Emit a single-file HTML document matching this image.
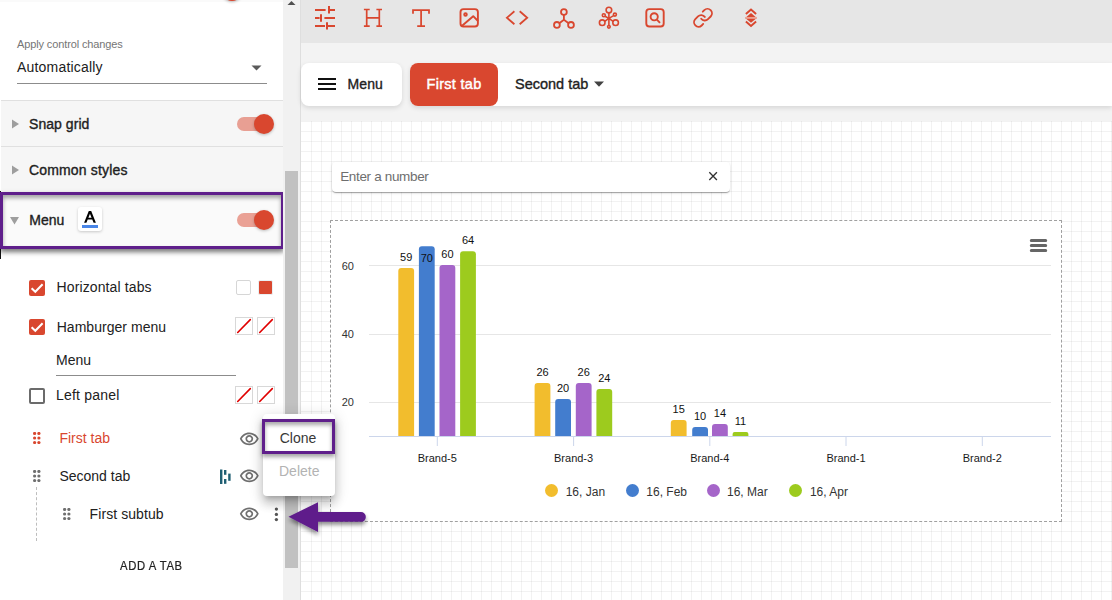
<!DOCTYPE html><html><head><meta charset="utf-8"><style>*{margin:0;padding:0;box-sizing:content-box}
html,body{width:1112px;height:600px;overflow:hidden;background:#fff;position:relative}
body{font-family:"Liberation Sans",sans-serif}
.t{position:absolute;white-space:nowrap;line-height:1}
</style></head><body>
<div style="position:absolute;left:0;top:0;width:283px;height:600px;background:#fff"></div>
<div style="position:absolute;left:0;top:0;width:283px;height:2px;background:#fafafa"></div>
<div style="position:absolute;left:222px;top:-19px;width:20px;height:20px;border-radius:50%;background:#d9472f;box-shadow:0 1px 3px rgba(0,0,0,.3)"></div>
<div class="t " style="left:17px;top:38.99px;font-size:11px;color:#757575;font-weight:400;letter-spacing:-0.12px;">Apply control changes</div>
<div class="t " style="left:17px;top:59.95px;font-size:14px;color:#212121;font-weight:400;letter-spacing:0.19px;">Automatically</div>
<svg style="position:absolute;left:251px;top:65px" width="11" height="6"><path d="M0.5 0.5 L10.5 0.5 L5.5 5.5Z" fill="#5a5a5a"/></svg>
<div style="position:absolute;left:17px;top:83px;width:250px;height:1px;background:#8c8c8c"></div>
<div style="position:absolute;left:1px;top:100px;width:282px;height:148px;background:#f6f6f6;border-top:1px solid #e0e0e0"></div>
<div style="position:absolute;left:1px;top:146px;width:282px;height:1px;background:#e0e0e0"></div>
<svg style="position:absolute;left:12px;top:119px" width="8" height="10"><path d="M0 0.5 L7 5 L0 9.5Z" fill="#9e9e9e"/></svg>
<div class="t " style="left:29px;top:117.15px;font-size:14px;color:#212121;font-weight:400;letter-spacing:0.05px;-webkit-text-stroke:0.35px #212121;">Snap grid</div>
<svg style="position:absolute;left:12px;top:165px" width="8" height="10"><path d="M0 0.5 L7 5 L0 9.5Z" fill="#9e9e9e"/></svg>
<div class="t " style="left:29px;top:163.35px;font-size:14px;color:#212121;font-weight:400;letter-spacing:0.16px;-webkit-text-stroke:0.35px #212121;">Common styles</div>
<div style="position:absolute;left:237px;top:117px;width:34px;height:14px;border-radius:7px;background:#d9472f;opacity:.5"></div><div style="position:absolute;left:254px;top:114px;width:20px;height:20px;border-radius:50%;background:#d9472f;box-shadow:0 1px 3px rgba(0,0,0,.25)"></div>
<div style="position:absolute;left:0;top:191px;width:1px;height:68px;background:#111"></div>
<div style="position:absolute;left:1px;top:192px;width:282px;height:57px;background:#fafafa;box-shadow:0 3px 6px rgba(0,0,0,.25)"></div>
<svg style="position:absolute;left:10px;top:217px" width="10" height="8"><path d="M0 0 L9 0 L4.5 7.5Z" fill="#9e9e9e"/></svg>
<div class="t " style="left:29.3px;top:213.45px;font-size:14px;color:#212121;font-weight:400;letter-spacing:0px;-webkit-text-stroke:0.35px #212121;">Menu</div>
<div style="position:absolute;left:78px;top:207px;width:24px;height:24px;background:#fff;border-radius:3px;box-shadow:0 1px 3px rgba(0,0,0,.2)"></div>
<svg style="position:absolute;left:0;top:0" width="110" height="240"><path fill-rule="evenodd" fill="#000" d="M88.8 211H91.2L95.9 222.7H93.6L92.27 219.4H87.7L86.4 222.7H84.1ZM88.37 217.7H91.59L89.96 213.64Z"/></svg>
<div style="position:absolute;left:82px;top:225px;width:16px;height:3px;background:#4a86e8"></div>
<div style="position:absolute;left:237px;top:213px;width:34px;height:14px;border-radius:7px;background:#d9472f;opacity:.5"></div><div style="position:absolute;left:254px;top:210px;width:20px;height:20px;border-radius:50%;background:#d9472f;box-shadow:0 1px 3px rgba(0,0,0,.25)"></div>
<div style="position:absolute;left:0;top:192px;width:278px;height:51px;border:3px solid #5f1f8b;box-shadow:0 3px 4px rgba(0,0,0,.35), inset 0 3px 4px rgba(0,0,0,.35)"></div>
<div style="position:absolute;left:28.5px;top:279.5px;width:16px;height:16px;border-radius:2px;background:#d9472f"></div><svg style="position:absolute;left:28.5px;top:279.5px" width="16" height="16"><path d="M2.6 8.2 L6.3 11.8 L13.6 4.3" stroke="#fff" stroke-width="2" fill="none"/></svg>
<div class="t " style="left:56.5px;top:280.35px;font-size:14px;color:#212121;font-weight:400;letter-spacing:0.12px;">Horizontal tabs</div>
<div style="position:absolute;left:236px;top:280px;width:13px;height:13px;border:1px solid #d6d6d6;border-radius:2px;background:#fff"></div>
<div style="position:absolute;left:258px;top:280px;width:13px;height:13px;border:1px solid #eaf0f3;border-radius:2px;background:#d9472f"></div>
<div style="position:absolute;left:28.5px;top:318.7px;width:16px;height:16px;border-radius:2px;background:#d9472f"></div><svg style="position:absolute;left:28.5px;top:318.7px" width="16" height="16"><path d="M2.6 8.2 L6.3 11.8 L13.6 4.3" stroke="#fff" stroke-width="2" fill="none"/></svg>
<div class="t " style="left:56.7px;top:319.65px;font-size:14px;color:#212121;font-weight:400;letter-spacing:0.04px;">Hamburger menu</div>
<svg style="position:absolute;left:235px;top:317px" width="18" height="18"><rect x="0.5" y="0.5" width="17" height="17" fill="#fff" stroke="#d8d8d8"/><path d="M2.7 15.5 L15.3 2.6" stroke="#e00000" stroke-width="1.6" stroke-linecap="round"/></svg>
<svg style="position:absolute;left:257px;top:317px" width="18" height="18"><rect x="0.5" y="0.5" width="17" height="17" fill="#fff" stroke="#d8d8d8"/><path d="M2.7 15.5 L15.3 2.6" stroke="#e00000" stroke-width="1.6" stroke-linecap="round"/></svg>
<div class="t " style="left:56px;top:352.75px;font-size:14px;color:#212121;font-weight:400;letter-spacing:0px;">Menu</div>
<div style="position:absolute;left:56px;top:375px;width:180px;height:1px;background:#8c8c8c"></div>
<div style="position:absolute;left:28.5px;top:387.5px;width:12px;height:12px;border-radius:2px;border:2px solid #6b6b6b"></div>
<div class="t " style="left:56px;top:388.15px;font-size:14px;color:#212121;font-weight:400;letter-spacing:0.2px;">Left panel</div>
<svg style="position:absolute;left:235px;top:386px" width="18" height="18"><rect x="0.5" y="0.5" width="17" height="17" fill="#fff" stroke="#d8d8d8"/><path d="M2.7 15.5 L15.3 2.6" stroke="#e00000" stroke-width="1.6" stroke-linecap="round"/></svg>
<svg style="position:absolute;left:257px;top:386px" width="18" height="18"><rect x="0.5" y="0.5" width="17" height="17" fill="#fff" stroke="#d8d8d8"/><path d="M2.7 15.5 L15.3 2.6" stroke="#e00000" stroke-width="1.6" stroke-linecap="round"/></svg>
<svg style="position:absolute;left:32.7px;top:431.9px" width="8" height="12"><circle cx="1.6" cy="1.5" r="1.6" fill="#d9472f"/><circle cx="1.6" cy="6" r="1.6" fill="#d9472f"/><circle cx="1.6" cy="10.5" r="1.6" fill="#d9472f"/><circle cx="5.9" cy="1.5" r="1.6" fill="#d9472f"/><circle cx="5.9" cy="6" r="1.6" fill="#d9472f"/><circle cx="5.9" cy="10.5" r="1.6" fill="#d9472f"/></svg>
<div class="t " style="left:59.4px;top:431.05px;font-size:14px;color:#d9472f;font-weight:400;letter-spacing:0px;">First tab</div>
<svg style="position:absolute;left:239.30px;top:428.53px" width="20.6" height="20.6" viewBox="0 0 24 24"><path fill="#6f6f6f" d="M12 6c3.79 0 7.17 2.13 8.82 5.5C19.17 14.87 15.79 17 12 17s-7.17-2.13-8.82-5.5C4.83 8.13 8.21 6 12 6m0-2C7 4 2.73 7.11 1 11.5 2.73 15.89 7 19 12 19s9.27-3.11 11-7.5C21.27 7.11 17 4 12 4zm0 5c1.38 0 2.5 1.12 2.5 2.5S13.38 14 12 14s-2.5-1.12-2.5-2.5S10.62 9 12 9m0-2c-2.48 0-4.5 2.02-4.5 4.5S9.52 16 12 16s4.5-2.02 4.5-4.5S14.48 7 12 7z"/></svg>
<svg style="position:absolute;left:32.7px;top:469.8px" width="8" height="12"><circle cx="1.6" cy="1.5" r="1.6" fill="#6f6f6f"/><circle cx="1.6" cy="6" r="1.6" fill="#6f6f6f"/><circle cx="1.6" cy="10.5" r="1.6" fill="#6f6f6f"/><circle cx="5.9" cy="1.5" r="1.6" fill="#6f6f6f"/><circle cx="5.9" cy="6" r="1.6" fill="#6f6f6f"/><circle cx="5.9" cy="10.5" r="1.6" fill="#6f6f6f"/></svg>
<div class="t " style="left:59.4px;top:468.95px;font-size:14px;color:#212121;font-weight:400;letter-spacing:0px;">Second tab</div>
<svg style="position:absolute;left:0;top:0" width="240" height="490"><g fill="#1f5f73"><rect x="220" y="469.5" width="2.4" height="14.5"/><rect x="224" y="470" width="2.4" height="4.8"/><rect x="224" y="479" width="2.4" height="4.8"/><rect x="228.2" y="473.6" width="2.4" height="7.2"/></g></svg>
<svg style="position:absolute;left:239.30px;top:466.23px" width="20.6" height="20.6" viewBox="0 0 24 24"><path fill="#6f6f6f" d="M12 6c3.79 0 7.17 2.13 8.82 5.5C19.17 14.87 15.79 17 12 17s-7.17-2.13-8.82-5.5C4.83 8.13 8.21 6 12 6m0-2C7 4 2.73 7.11 1 11.5 2.73 15.89 7 19 12 19s9.27-3.11 11-7.5C21.27 7.11 17 4 12 4zm0 5c1.38 0 2.5 1.12 2.5 2.5S13.38 14 12 14s-2.5-1.12-2.5-2.5S10.62 9 12 9m0-2c-2.48 0-4.5 2.02-4.5 4.5S9.52 16 12 16s4.5-2.02 4.5-4.5S14.48 7 12 7z"/></svg>
<div style="position:absolute;left:36px;top:487px;width:0;height:54px;border-left:1px dashed #bdbdbd"></div>
<svg style="position:absolute;left:62.6px;top:508.1px" width="8" height="12"><circle cx="1.6" cy="1.5" r="1.6" fill="#6f6f6f"/><circle cx="1.6" cy="6" r="1.6" fill="#6f6f6f"/><circle cx="1.6" cy="10.5" r="1.6" fill="#6f6f6f"/><circle cx="5.9" cy="1.5" r="1.6" fill="#6f6f6f"/><circle cx="5.9" cy="6" r="1.6" fill="#6f6f6f"/><circle cx="5.9" cy="10.5" r="1.6" fill="#6f6f6f"/></svg>
<div class="t " style="left:89.6px;top:507.35px;font-size:14px;color:#212121;font-weight:400;letter-spacing:0.08px;">First subtub</div>
<svg style="position:absolute;left:239.30px;top:504.13px" width="20.6" height="20.6" viewBox="0 0 24 24"><path fill="#6f6f6f" d="M12 6c3.79 0 7.17 2.13 8.82 5.5C19.17 14.87 15.79 17 12 17s-7.17-2.13-8.82-5.5C4.83 8.13 8.21 6 12 6m0-2C7 4 2.73 7.11 1 11.5 2.73 15.89 7 19 12 19s9.27-3.11 11-7.5C21.27 7.11 17 4 12 4zm0 5c1.38 0 2.5 1.12 2.5 2.5S13.38 14 12 14s-2.5-1.12-2.5-2.5S10.62 9 12 9m0-2c-2.48 0-4.5 2.02-4.5 4.5S9.52 16 12 16s4.5-2.02 4.5-4.5S14.48 7 12 7z"/></svg>
<svg style="position:absolute;left:274px;top:507px" width="5" height="16"><circle cx="2.4" cy="2.1" r="1.65" fill="#555"/><circle cx="2.4" cy="7.4" r="1.65" fill="#555"/><circle cx="2.4" cy="12.6" r="1.65" fill="#555"/></svg>
<div class="t " style="left:120.4px;top:559.84px;font-size:12px;color:#212121;font-weight:400;letter-spacing:0.65px;-webkit-text-stroke:0.2px #212121;transform:scaleX(0.94);transform-origin:0 0;">ADD A TAB</div>
<div style="position:absolute;left:283px;top:0;width:17px;height:600px;background:#f1f1f1"></div>
<svg style="position:absolute;left:287px;top:0" width="9" height="6"><path d="M0.5 5 L4.5 1 L8.5 5Z" fill="#505050"/></svg>
<div style="position:absolute;left:285px;top:171px;width:13px;height:397px;background:#c1c1c1"></div>
<div style="position:absolute;left:300px;top:0;width:1px;height:600px;background:#dedede"></div>
<div style="position:absolute;left:301px;top:0;width:811px;height:43px;background:#e6e6e6"></div>
<div style="position:absolute;left:301px;top:43px;width:811px;height:78px;background:#f3f3f3"></div>
<div style="position:absolute;left:301px;top:121px;width:811px;height:479px;background:#fff"></div>
<div style="position:absolute;left:301px;top:121px;width:811px;height:479px;background-image:linear-gradient(to bottom,rgba(0,0,0,.05) 1px,transparent 1px);background-size:10px 10px"></div>
<div style="position:absolute;left:302px;top:121px;width:810px;height:479px;background-image:linear-gradient(to right,transparent 9px,rgba(0,0,0,.05) 9px);background-size:10px 10px"></div>
<div style="position:absolute;left:410px;top:63px;width:702px;height:43px;background:#fff;border-radius:8px 0 0 8px;box-shadow:0 2px 5px rgba(0,0,0,.12)"></div>
<div style="position:absolute;left:301px;top:63px;width:101px;height:43px;background:#fff;border-radius:8px;box-shadow:0 2px 5px rgba(0,0,0,.12)"></div>
<div style="position:absolute;left:410px;top:63px;width:88px;height:43px;background:#d9472f;border-radius:8px"></div>
<svg style="position:absolute;left:318px;top:78px" width="18" height="12"><rect x="0" y="0" width="18" height="2" fill="#111"/><rect x="0" y="5" width="18" height="2" fill="#111"/><rect x="0" y="10" width="18" height="2" fill="#111"/></svg>
<div class="t " style="left:347.6px;top:77.35px;font-size:14px;color:#212121;font-weight:400;letter-spacing:0.05px;-webkit-text-stroke:0.35px #212121;">Menu</div>
<div class="t " style="left:426.6px;top:76.93px;font-size:14.5px;color:#fff;font-weight:400;letter-spacing:0.28px;-webkit-text-stroke:0.45px #fff;">First tab</div>
<div class="t " style="left:515px;top:76.93px;font-size:14.5px;color:#212121;font-weight:400;letter-spacing:0.0px;-webkit-text-stroke:0.35px #212121;">Second tab</div>
<svg style="position:absolute;left:594px;top:81px" width="10" height="6"><path d="M0 0.5 L10 0.5 L5 5.8Z" fill="#424242"/></svg>
<svg style="position:absolute;left:0;top:0" width="1112" height="45"><g stroke="#d9472f" stroke-width="2"><path d="M315 10H325.6M330 10H335M315 18H319.6M324.4 18H335M315 26H325M328 26H335"/><path d="M329 6V13.5M321 14.2V21.7M327 22.2V29.5"/></g><g stroke="#d9472f" stroke-width="1.7" fill="none"><path d="M366.7 9.5V26.2M379.3 9.5V26.2M366.7 17.8H379.3M363.9 9.5H369.7M376.4 9.5H382M363.9 26.2H369.7M376.4 26.2H382"/></g><g stroke="#d9472f" stroke-width="1.75" fill="none"><path d="M413 13.8V10H429V13.8M421.1 10V26M417.2 26H425"/></g><g stroke="#d9472f" stroke-width="1.9" fill="none" stroke-linejoin="round"><rect x="460.5" y="9.1" width="17.4" height="17.4" rx="3"/><circle cx="465.5" cy="14.4" r="1.3"/><path d="M461.5 26.3L473.2 16.2L478 21"/></g><g stroke="#d9472f" stroke-width="1.8" fill="none"><path d="M514.4 11.3L506.9 17.8L514.4 24.3M519.7 11.3L527.2 17.8L519.7 24.3"/></g><g stroke="#d9472f" stroke-width="1.8" fill="none"><circle cx="563.9" cy="12" r="2.9"/><circle cx="556.9" cy="24.9" r="2.9"/><circle cx="571" cy="24.9" r="2.9"/><path d="M563.9 14.9V19.8M563.9 19.8L559.3 23.2M563.9 19.8L568.6 23.2"/></g><g stroke="#d9472f" stroke-width="1.6" fill="none"><circle cx="608.9" cy="10.1" r="2.8"/><circle cx="603.8" cy="15.2" r="1.5"/><circle cx="614.9" cy="14.6" r="1.5"/><circle cx="602.2" cy="22.7" r="2.8"/><circle cx="615.6" cy="22.7" r="2.8"/><circle cx="608.9" cy="26.8" r="1.3"/><path d="M608.9 12.9V25.5M608.9 18.4L605 16.2M608.9 18.4L613.6 15.6M608.9 18.4L604.7 21.4M608.9 18.4L613.1 21.4"/></g><g stroke="#d9472f" stroke-width="1.9" fill="none"><rect x="646.3" y="9.1" width="17.4" height="17.4" rx="3"/><circle cx="654.2" cy="16.8" r="3.6"/><path d="M656.9 19.6L660 22.8"/></g><g transform="translate(692.2,7.0) scale(0.9)" stroke="#d9472f" stroke-width="2.05" fill="none" stroke-linecap="round" stroke-linejoin="round"><path d="M10 13a5 5 0 0 0 7.54.54l3-3a5 5 0 0 0-7.07-7.07l-1.72 1.71"/><path d="M14 11a5 5 0 0 0-7.54-.54l-3 3a5 5 0 0 0 7.07 7.07l1.71-1.71"/></g><g><path d="M745.9 14L751 9.6L756.1 14" stroke="#d9472f" stroke-width="2" fill="none"/><path d="M745.2 17.9L751 13L756.8 17.9L751 22.8Z" fill="#d9472f"/><path d="M745.9 21.5L751 25.9L756.1 21.5" stroke="#d9472f" stroke-width="2" fill="none"/><path d="M745.2 17.9H756.8" stroke="#eba293" stroke-width="1.9"/></g></svg>
<div style="position:absolute;left:332px;top:162px;width:398px;height:30px;background:#fff;border-radius:4px;box-shadow:0 2px 1px -1px rgba(0,0,0,.2),0 1px 1px 0 rgba(0,0,0,.14),0 1px 3px 0 rgba(0,0,0,.12)"></div>
<div class="t " style="left:340.2px;top:169.77px;font-size:13.5px;color:#6e6e6e;font-weight:400;letter-spacing:-0.34px;">Enter a number</div>
<svg style="position:absolute;left:708px;top:171px" width="10" height="10"><path d="M1.3 1.3L8.9 8.9M8.9 1.3L1.3 8.9" stroke="#333" stroke-width="1.35"/></svg>
<div style="position:absolute;left:330px;top:220px;width:730px;height:300px;border:1px dashed #a0a0a0;background:#fff"></div>
<svg style="position:absolute;left:0;top:0" width="1112" height="600"><path d="M369 265.5H1051" stroke="#e6e6e6" stroke-width="1"/><path d="M369 334.5H1051" stroke="#e6e6e6" stroke-width="1"/><path d="M369 402.5H1051" stroke="#e6e6e6" stroke-width="1"/><path d="M369 436.5H1051" stroke="#ccd6eb" stroke-width="1"/><path d="M437.3 436V446" stroke="#ccd6eb" stroke-width="1"/><path d="M573.6 436V446" stroke="#ccd6eb" stroke-width="1"/><path d="M709.8 436V446" stroke="#ccd6eb" stroke-width="1"/><path d="M846.0 436V446" stroke="#ccd6eb" stroke-width="1"/><path d="M982.3 436V446" stroke="#ccd6eb" stroke-width="1"/><path d="M398.30 436V270.90Q398.30 267.9 401.30 267.9H411.10Q414.10 267.9 414.10 270.90V436Z" fill="#f2bd2d"/><path d="M418.90 436V249.20Q418.90 246.2 421.90 246.2H431.70Q434.70 246.2 434.70 249.20V436Z" fill="#437dce"/><path d="M439.50 436V268.00Q439.50 265 442.50 265H452.30Q455.30 265 455.30 268.00V436Z" fill="#a565c9"/><path d="M460.10 436V254.20Q460.10 251.2 463.10 251.2H472.90Q475.90 251.2 475.90 254.20V436Z" fill="#9dcb1e"/><path d="M534.60 436V386.10Q534.60 383.1 537.60 383.1H547.40Q550.40 383.1 550.40 386.10V436Z" fill="#f2bd2d"/><path d="M555.20 436V401.90Q555.20 398.9 558.20 398.9H568.00Q571.00 398.9 571.00 401.90V436Z" fill="#437dce"/><path d="M575.80 436V386.10Q575.80 383.1 578.80 383.1H588.60Q591.60 383.1 591.60 386.10V436Z" fill="#a565c9"/><path d="M596.40 436V391.90Q596.40 388.9 599.40 388.9H609.20Q612.20 388.9 612.20 391.90V436Z" fill="#9dcb1e"/><path d="M670.80 436V423.00Q670.80 420 673.80 420H683.60Q686.60 420 686.60 423.00V436Z" fill="#f2bd2d"/><path d="M692.20 436V430.00Q692.20 427 695.20 427H705.00Q708.00 427 708.00 430.00V436Z" fill="#437dce"/><path d="M712.00 436V427.00Q712.00 424 715.00 424H724.80Q727.80 424 727.80 427.00V436Z" fill="#a565c9"/><path d="M732.60 436V434.00Q732.60 432 734.60 432H746.40Q748.40 432 748.40 434.00V436Z" fill="#9dcb1e"/></svg>
<div class="t" style="left:306.2px;width:200px;text-align:center;top:252.19px;font-size:11px;color:#111;font-weight:400;letter-spacing:0px;">59</div>
<div class="t" style="left:326.8px;width:200px;text-align:center;top:253.29px;font-size:11px;color:#111;font-weight:400;letter-spacing:0px;">70</div>
<div class="t" style="left:347.4px;width:200px;text-align:center;top:249.29px;font-size:11px;color:#111;font-weight:400;letter-spacing:0px;">60</div>
<div class="t" style="left:368.0px;width:200px;text-align:center;top:235.49px;font-size:11px;color:#111;font-weight:400;letter-spacing:0px;">64</div>
<div class="t" style="left:442.5px;width:200px;text-align:center;top:367.39px;font-size:11px;color:#111;font-weight:400;letter-spacing:0px;">26</div>
<div class="t" style="left:463.1px;width:200px;text-align:center;top:383.19px;font-size:11px;color:#111;font-weight:400;letter-spacing:0px;">20</div>
<div class="t" style="left:483.70000000000005px;width:200px;text-align:center;top:367.39px;font-size:11px;color:#111;font-weight:400;letter-spacing:0px;">26</div>
<div class="t" style="left:504.29999999999995px;width:200px;text-align:center;top:373.19px;font-size:11px;color:#111;font-weight:400;letter-spacing:0px;">24</div>
<div class="t" style="left:578.6999999999999px;width:200px;text-align:center;top:404.29px;font-size:11px;color:#111;font-weight:400;letter-spacing:0px;">15</div>
<div class="t" style="left:600.0999999999999px;width:200px;text-align:center;top:411.29px;font-size:11px;color:#111;font-weight:400;letter-spacing:0px;">10</div>
<div class="t" style="left:619.9px;width:200px;text-align:center;top:408.29px;font-size:11px;color:#111;font-weight:400;letter-spacing:0px;">14</div>
<div class="t" style="left:640.4999999999999px;width:200px;text-align:center;top:416.29px;font-size:11px;color:#111;font-weight:400;letter-spacing:0px;">11</div>
<div class="t" style="left:300px;width:54px;text-align:right;top:260.69px;font-size:11px;color:#333">60</div>
<div class="t" style="left:300px;width:54px;text-align:right;top:329.49px;font-size:11px;color:#333">40</div>
<div class="t" style="left:300px;width:54px;text-align:right;top:397.29px;font-size:11px;color:#333">20</div>
<div class="t" style="left:337.3px;width:200px;text-align:center;top:452.89px;font-size:11px;color:#1a1a1a;font-weight:400;letter-spacing:0px;">Brand-5</div>
<div class="t" style="left:473.6px;width:200px;text-align:center;top:452.89px;font-size:11px;color:#1a1a1a;font-weight:400;letter-spacing:0px;">Brand-3</div>
<div class="t" style="left:609.8px;width:200px;text-align:center;top:452.89px;font-size:11px;color:#1a1a1a;font-weight:400;letter-spacing:0px;">Brand-4</div>
<div class="t" style="left:746.0px;width:200px;text-align:center;top:452.89px;font-size:11px;color:#1a1a1a;font-weight:400;letter-spacing:0px;">Brand-1</div>
<div class="t" style="left:882.3px;width:200px;text-align:center;top:452.89px;font-size:11px;color:#1a1a1a;font-weight:400;letter-spacing:0px;">Brand-2</div>
<div style="position:absolute;left:545px;top:484.3px;width:13px;height:13px;border-radius:50%;background:#f2bd2d"></div>
<div class="t " style="left:565.7px;top:485.84px;font-size:12px;color:#333;font-weight:400;letter-spacing:0px;">16, Jan</div>
<div style="position:absolute;left:626px;top:484.3px;width:13px;height:13px;border-radius:50%;background:#437dce"></div>
<div class="t " style="left:646.3px;top:485.84px;font-size:12px;color:#333;font-weight:400;letter-spacing:0px;">16, Feb</div>
<div style="position:absolute;left:706.6px;top:484.3px;width:13px;height:13px;border-radius:50%;background:#a565c9"></div>
<div class="t " style="left:727px;top:485.84px;font-size:12px;color:#333;font-weight:400;letter-spacing:0px;">16, Mar</div>
<div style="position:absolute;left:789.2px;top:484.3px;width:13px;height:13px;border-radius:50%;background:#9dcb1e"></div>
<div class="t " style="left:809.9px;top:485.84px;font-size:12px;color:#333;font-weight:400;letter-spacing:0px;">16, Apr</div>
<svg style="position:absolute;left:1028px;top:237px" width="21" height="17"><path d="M3.3 3.5H17.7M3.3 8.5H17.7M3.3 13.5H17.7" stroke="#666" stroke-width="3" stroke-linecap="round"/></svg>
<div style="position:absolute;left:263px;top:414px;width:72px;height:82px;background:#fff;border-radius:4px;box-shadow:0 5px 5px -3px rgba(0,0,0,.2),0 8px 10px 1px rgba(0,0,0,.14),0 3px 14px 2px rgba(0,0,0,.12)"></div>
<div class="t " style="left:279.7px;top:430.85px;font-size:14px;color:#383838;font-weight:400;letter-spacing:0px;">Clone</div>
<div class="t " style="left:279.0px;top:464.15px;font-size:14px;color:#b3b3b3;font-weight:400;letter-spacing:0px;">Delete</div>
<div style="position:absolute;left:262px;top:419px;width:67px;height:29px;border:3px solid #5f1f8b;box-shadow:0 3px 4px rgba(0,0,0,.35), inset 0 3px 4px rgba(0,0,0,.35)"></div>
<svg style="position:absolute;left:0;top:0" width="1112" height="600"><defs><filter id="ds" x="-20%" y="-20%" width="140%" height="160%"><feDropShadow dx="0" dy="3" stdDeviation="2" flood-color="#000" flood-opacity=".45"/></filter></defs><path d="M288.5 516.8L318 502.2V512.1H361A4.85 4.85 0 0 1 361 521.8H318V531.9Z" fill="#5f1f8b" filter="url(#ds)"/></svg>
</body></html>
